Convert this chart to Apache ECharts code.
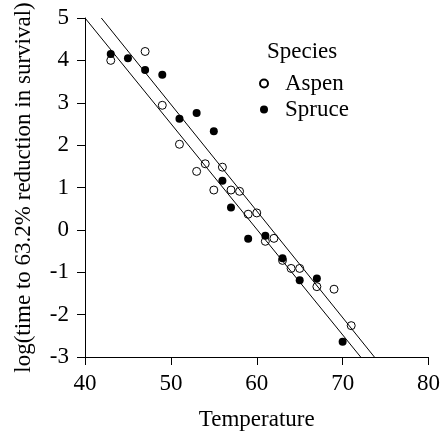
<!DOCTYPE html>
<html>
<head>
<meta charset="utf-8">
<script src="https://cdn.jsdelivr.net/npm/echarts@6/dist/echarts.min.js"></script>
<style>
  html, body { margin: 0; padding: 0; background: #fff; }
  #chart { width: 443px; height: 436px; }
</style>
</head>
<body>
<div id="chart"></div>
<script>
// Temperature values (x) and log time values (y)
var aspenTemp = [43, 47, 49, 51, 53, 54, 55, 56, 57, 58, 59, 60, 61, 62, 63, 64, 65, 67, 69, 71];
var aspenLogTime = [4.00, 4.21, 2.94, 2.02, 1.38, 1.56, 0.94, 1.48, 0.94, 0.91, 0.37, 0.40, -0.27, -0.20, -0.72, -0.91, -0.91, -1.34, -1.40, -2.26];

var spruceTemp = [43, 45, 47, 49, 51, 53, 55, 56, 57, 59, 61, 63, 65, 67, 70];
var spruceLogTime = [4.15, 4.05, 3.77, 3.66, 2.62, 2.76, 2.33, 1.16, 0.53, -0.21, -0.14, -0.67, -1.19, -1.15, -2.64];

// fitted lines, end points where they leave the plot
var fitA = [[40.0, 5], [72.1, -3]];
var fitB = [[41.9, 5], [73.7, -3]];

var xTicks = [40, 50, 60, 70, 80];
var yTicks = [-3, -2, -1, 0, 1, 2, 3, 4, 5];

function pairs(xs, ys) {
    var out = [];
    for (var i = 0; i < xs.length; i++) {
        out.push([xs[i], ys[i]]);
    }
    return out;
}

var chart = echarts.init(document.getElementById('chart'), null, { renderer: 'canvas' });
var font = 'Liberation Serif, Times New Roman, serif';

chart.setOption({
    animation: false,
    textStyle: { fontFamily: font, color: '#000' },
    title: {
        text: 'Species',
        left: 267,
        top: 40,
        padding: 0,
        textStyle: { fontFamily: font, fontSize: 23, fontWeight: 'normal', color: '#000' }
    },
    legend: {
        data: ['Aspen', 'Spruce'],
        orient: 'vertical',
        align: 'left',
        left: 259,
        top: 72,
        padding: 0,
        // wide box so the text starts further right of the circle
        itemWidth: 32,
        itemHeight: 8,
        itemGap: 3,
        textStyle: { fontFamily: font, fontSize: 23, color: '#000' }
    },
    grid: { left: 85, right: 14, top: 18, bottom: 75, containLabel: false },
    xAxis: {
        type: 'value',
        min: xTicks[0],
        max: xTicks[xTicks.length - 1],
        interval: 10,
        name: 'Temperature',
        nameLocation: 'middle',
        nameGap: 51,
        nameTextStyle: { fontFamily: font, fontSize: 23, color: '#000' },
        axisLine: { onZero: false, lineStyle: { color: '#000', width: 1 } },
        axisTick: { inside: false, length: 8, lineStyle: { color: '#000' } },
        axisLabel: { rotate: 0, margin: 15, fontFamily: font, fontSize: 23, color: '#000' },
        splitLine: { show: false }
    },
    yAxis: {
        type: 'value',
        min: yTicks[0],
        max: yTicks[yTicks.length - 1],
        interval: 1,
        name: 'log(time to 63.2% reduction in survival)',
        nameLocation: 'middle',
        nameGap: 50,
        nameTextStyle: { fontFamily: font, fontSize: 23, color: '#000' },
        axisLine: { show: true, onZero: false, lineStyle: { color: '#000', width: 1 } },
        axisTick: { show: true, inside: false, length: 8, lineStyle: { color: '#000' } },
        axisLabel: { rotate: 0, margin: 16, fontFamily: font, fontSize: 23, color: '#000' },
        splitLine: { show: false }
    },
    series: [
        {
            name: 'Aspen fit',
            type: 'line',
            data: fitA,
            symbol: 'none',
            lineStyle: { color: '#000', width: 1 },
            z: 1
        },
        {
            name: 'Spruce fit',
            type: 'line',
            data: fitB,
            symbol: 'none',
            lineStyle: { color: '#000', width: 1 },
            z: 1
        },
        {
            name: 'Aspen',
            type: 'scatter',
            data: pairs(aspenTemp, aspenLogTime),
            symbol: 'circle',
            symbolSize: 8,
            itemStyle: { color: 'rgba(255,255,255,0)', borderColor: '#000', borderWidth: 1, opacity: 1 },
            z: 3
        },
        {
            name: 'Spruce',
            type: 'scatter',
            data: pairs(spruceTemp, spruceLogTime),
            symbol: 'circle',
            symbolSize: 8,
            itemStyle: { color: '#000', opacity: 1 },
            z: 3
        }
    ]
});
</script>
</body>
</html>
